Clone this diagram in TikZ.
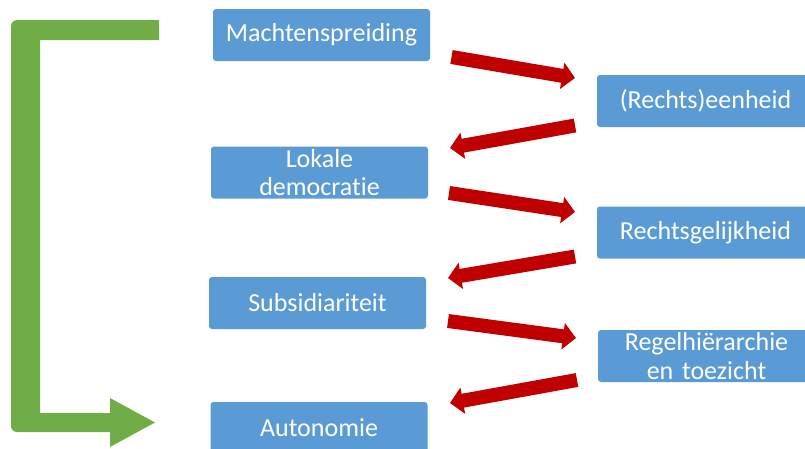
\documentclass[tikz,border=0pt]{standalone}
\usepackage{fontspec}
\setmainfont{Carlito}[Ligatures={CommonOff,ContextualOff}]
\usepackage{xcolor}
\usetikzlibrary{arrows.meta}
\definecolor{blauw}{HTML}{5B9BD5}
\definecolor{rood}{HTML}{C00000}
\definecolor{groen}{HTML}{70AD47}

\begin{document}
\begin{tikzpicture}[x=1pt, y=-1pt]
    \tikzstyle{blok} = [rectangle, fill=blauw, text=white, minimum width=217pt, minimum height=52pt, text width=210pt, align=center, inner sep=0pt, rounded corners=3pt, font=\fontsize{26}{28.5}\selectfont]
    \tikzstyle{pijl} = [draw=rood, line width=14pt, -{Triangle[length=13pt, width=26pt]}]

    \useasboundingbox (0,0) rectangle (805,448);

    % Linker kolom
    \node [blok] (macht) at (321.5,35) {Machtenspreiding};
    \node [blok] (lokaal) at (319.5,172.5) {Lokale\\democratie};
    \node [blok] (subsid) at (317.5,303) {Subsidiariteit};
    \node [blok] (auton) at (319,428) {Autonomie};

    % Rechter kolom
    \node [blok] (eenheid) at (705.5,101) {(Rechts)eenheid};
    \node [blok] (gelijk) at (705.5,232.5) {Rechtsgelijkheid};
    \node [blok] (regel) at (706.5,356) {Regelhiërarchie\\en toezicht};

    % Eindpunten van de pijlen
    \coordinate (p1a) at (451.5,57);  \coordinate (p1b) at (575,78);
    \coordinate (p2a) at (575,125.5); \coordinate (p2b) at (450,148);
    \coordinate (p3a) at (449,193);   \coordinate (p3b) at (575,212);
    \coordinate (p4a) at (575,256.5); \coordinate (p4b) at (448,278);
    \coordinate (p5a) at (448,321);   \coordinate (p5b) at (576,338);
    \coordinate (p6a) at (577,380);   \coordinate (p6b) at (450,403);

    % Rode pijlen
    \draw [pijl] (p1a) -- (p1b);
    \draw [pijl] (p2a) -- (p2b);
    \draw [pijl] (p3a) -- (p3b);
    \draw [pijl] (p4a) -- (p4b);
    \draw [pijl] (p5a) -- (p5b);
    \draw [pijl] (p6a) -- (p6b);

    % Groene terugkoppeling
    \fill [groen] (159,20) -- (40,20) [rounded corners=6pt] -- (11,20) -- (11,432) -- (40,432) [sharp corners] -- (110,432) -- (110,447) -- (155,422.5) -- (110,398) -- (110,413) -- (40,413) -- (40,40) -- (159,40) -- cycle;
\end{tikzpicture}
\end{document}
